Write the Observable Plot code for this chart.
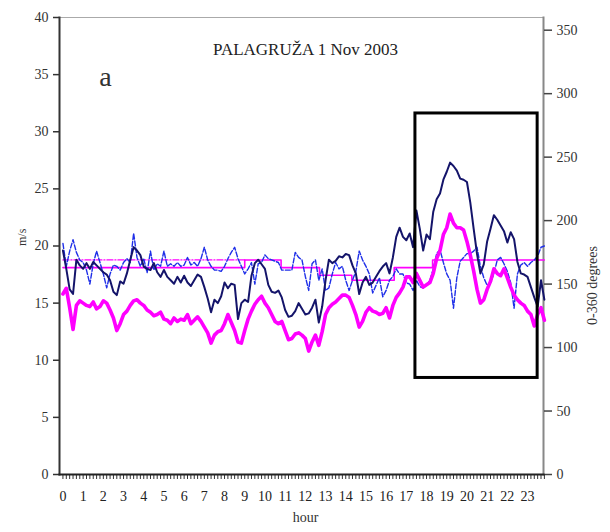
<!DOCTYPE html>
<html>
<head>
<meta charset="utf-8">
<script src="https://cdn.jsdelivr.net/npm/d3@7"></script>
<script src="https://cdn.jsdelivr.net/npm/@observablehq/plot@0.6"></script>
<style>
  html, body { margin: 0; padding: 0; background: #fff; }
</style>
</head>
<body>
<div id="chart"></div>
<script>
// ---- data (10-minute samples, 1 Nov 2003, Palagruža) ----
const title = "PALAGRUŽA 1 Nov 2003";
const panelLabel = "a";
const hourLabels = d3.range(0, 24);
const leftTicks = [0, 5, 10, 15, 20, 25, 30, 35, 40];
const rightTicks = [0, 50, 100, 150, 200, 250, 300, 350];

// maximum wind speed (m/s) – navy
const gust = [19.6,18.0,16.2,15.8,18.8,18.3,18.0,18.5,18.0,18.6,18.3,18.0,
  17.7,17.5,17.0,16.0,15.7,16.9,16.7,17.6,18.8,19.9,19.6,19.2,
  18.2,18.0,17.9,18.5,17.7,17.3,17.9,17.3,17.0,16.7,17.3,16.8,
  17.4,16.8,16.5,17.0,17.5,17.3,16.4,15.4,14.2,15.3,15.0,15.6,
  16.8,16.3,16.7,16.6,13.6,15.0,15.3,15.1,17.4,18.5,18.8,18.4,
  18.0,16.6,16.0,15.9,16.1,15.5,14.4,13.8,13.9,14.3,15.0,14.5,
  14.0,14.1,14.6,15.3,13.3,14.7,17.0,18.8,18.5,18.7,19.1,19.0,
  19.3,19.2,18.3,17.6,15.8,16.8,17.3,16.6,16.8,17.3,17.8,18.2,
  18.5,17.6,19.0,20.8,21.6,20.8,20.5,21.1,19.9,23.1,21.5,19.6,
  21.0,20.6,23.0,24.1,24.6,25.8,26.5,27.3,27.0,26.6,25.9,25.8,
  25.6,23.8,21.5,19.3,17.6,18.4,20.4,21.5,22.7,22.3,21.8,21.3,
  20.3,21.2,20.6,18.6,17.6,17.5,17.3,16.4,15.5,14.7,17.0,15.3];

// mean wind speed (m/s) – magenta thick
const meanSpeed = [15.8,16.3,14.6,12.7,14.8,15.2,15.0,14.8,14.7,15.1,14.5,14.7,
  15.2,15.0,14.4,13.7,12.6,13.2,14.0,14.3,14.8,15.2,15.3,15.0,
  14.8,14.4,14.2,13.9,14.0,14.2,13.6,13.5,13.2,13.7,13.4,13.6,
  13.5,14.0,13.2,13.5,13.8,13.4,12.9,12.4,11.5,12.2,12.5,12.6,
  13.2,14.0,13.3,12.6,11.6,11.5,12.6,13.6,14.3,14.9,15.3,15.6,
  15.0,14.6,14.0,13.4,13.2,13.4,12.6,11.8,11.9,12.3,12.4,12.2,
  11.9,10.8,11.6,12.2,11.3,12.5,14.0,14.6,14.9,15.1,15.4,15.7,
  15.7,15.5,14.8,14.0,12.9,13.4,14.2,14.6,14.3,14.2,14.0,14.1,
  14.6,13.7,14.8,15.5,15.9,16.4,17.3,17.3,16.8,17.6,17.0,16.4,
  16.6,16.8,17.6,18.9,19.6,21.0,21.6,22.8,22.0,21.6,21.6,21.4,
  20.4,19.2,17.8,16.2,15.0,15.3,16.2,16.9,18.0,17.6,17.4,18.0,
  17.2,16.4,15.7,15.3,15.0,14.8,14.3,14.0,13.0,14.0,14.6,13.5];

// wind direction (degrees, 0-360) – blue dashed
const direction = [182,164,176,185,175,169,167,161,150,166,176,167,
  158,147,158,165,164,161,167,170,167,190,171,164,
  170,159,176,161,166,164,176,164,166,164,167,164,
  165,171,165,167,164,170,179,169,164,161,161,160,
  164,170,175,179,170,164,158,162,167,150,166,167,
  173,170,169,168,167,161,161,161,161,175,171,169,
  156,145,166,169,153,162,145,147,158,167,162,164,
  153,145,153,160,176,169,164,158,143,149,155,140,
  145,153,156,162,158,158,151,150,145,153,148,147,
  149,153,162,174,177,167,158,153,131,155,168,171,
  174,174,176,179,164,155,149,151,158,169,171,166,
  160,151,131,158,165,167,164,167,169,172,179,180];

// averaged direction (degrees) – thin magenta steps
const avgDirHours = [0, 9, 10.8, 12.7, 14.3, 16.4, 18.3, 23.83];
const avgDirValues = [163, 169, 163, 157, 153, 163, 169, 169];
// reference direction (degrees) – magenta dash-dot
const refDirHours = [0, 9];
const refDirValues = [169, 169];

// highlighted period box
const boxHours = [17.45, 23.5];
const boxSpeed = [8.45, 31.6];

// ---- build tables ----
const times = gust.map((_, i) => i / 6); // sample time in hours
const rows = times.map((h, i) => ({h, gust: gust[i], mean: meanSpeed[i], dir: direction[i]}));
const avgRows = avgDirHours.map((h, i) => ({h, dir: avgDirValues[i]}));
const refRows = refDirHours.map((h, i) => ({h, dir: refDirValues[i]}));
const box = [{x1: boxHours[0], x2: boxHours[1], y1: boxSpeed[0], y2: boxSpeed[1]}];
const degToSpeed = 40 / 360; // 0-360 degrees share the 0-40 m/s extent

const serif = "'Liberation Serif', 'Times New Roman', serif";

const chart = Plot.plot({
  width: 610,
  height: 532,
  marginLeft: 59,
  marginRight: 67,
  marginTop: 17,
  marginBottom: 58,
  style: {fontFamily: serif, fontSize: "14px", color: "#333", background: "#fff"},
  x: {domain: [-0.17, 23.79]},
  y: {domain: [0, 40]},
  marks: [
    // frame
    Plot.frame({anchor: "top", stroke: "#aaa", strokeWidth: 1}),
    Plot.frame({anchor: "right", stroke: "#888", strokeWidth: 2}),
    // axes
    Plot.axisY(leftTicks, {anchor: "left", tickSize: 6, tickPadding: 5, label: null, stroke: "#333", strokeWidth: 1.5, fill: "#333", fontSize: 14}),
    Plot.axisY(rightTicks.map(d => d * degToSpeed), {anchor: "right", tickSize: 8, tickPadding: 5, label: null,
      tickFormat: d => String(Math.round(d / degToSpeed)), stroke: "#444", strokeWidth: 1.5, fill: "#333", fontSize: 14}),
    Plot.axisX(times, {anchor: "bottom", tickSize: 5, tickFormat: () => "", label: null, stroke: "#333", strokeWidth: 1}),
    Plot.axisX(hourLabels, {anchor: "bottom", tickSize: 0, tickPadding: 17, label: null, fill: "#222", fontSize: 14}),
    Plot.frame({anchor: "left", stroke: "#333", strokeWidth: 2}),
    Plot.frame({anchor: "bottom", stroke: "#222", strokeWidth: 2}),
    // series
    Plot.line(refRows, {x: "h", y: d => d.dir * degToSpeed, stroke: "#ff00ff", strokeWidth: 1.3, strokeDasharray: "6,2,1,2"}),
    Plot.line(avgRows, {x: "h", y: d => d.dir * degToSpeed, stroke: "#ff00ff", strokeWidth: 1.6, curve: "step-after"}),
    Plot.line(rows, {x: "h", y: d => d.dir * degToSpeed, stroke: "#1f2fe8", strokeWidth: 1.4, strokeDasharray: "5,2"}),
    Plot.line(rows, {x: "h", y: "mean", stroke: "#ff00ff", strokeWidth: 3.6}),
    Plot.line(rows, {x: "h", y: "gust", stroke: "#14146a", strokeWidth: 2}),
    // highlight box
    Plot.rect(box, {x1: "x1", x2: "x2", y1: "y1", y2: "y2", fill: "none", stroke: "#000", strokeWidth: 3}),
    // texts
    Plot.text([title], {frameAnchor: "top", dx: 4, dy: 32, fontSize: 17, fill: "#222", lineAnchor: "middle"}),
    Plot.text([panelLabel], {frameAnchor: "top-left", dx: 46, dy: 60, fontSize: 28, fill: "#333", lineAnchor: "middle", textAnchor: "middle"}),
    Plot.text(["m/s"], {frameAnchor: "left", dx: -37, rotate: -90, fontSize: 12, fill: "#333"}),
    Plot.text(["0-360 degrees"], {frameAnchor: "right", dx: 49, rotate: -90, fontSize: 14, fill: "#333"}),
    Plot.text(["hour"], {frameAnchor: "bottom", dx: 4, dy: 47, fontSize: 14, fill: "#333"})
  ]
});
document.getElementById("chart").appendChild(chart);
</script>
</body>
</html>
